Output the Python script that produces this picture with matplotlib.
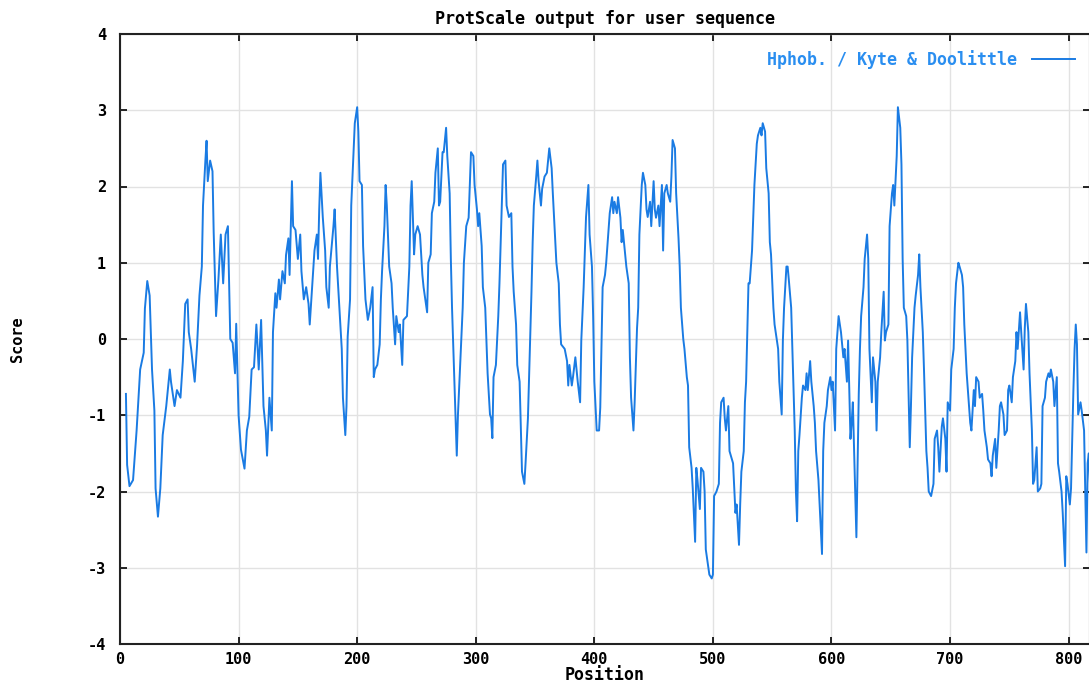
import matplotlib
matplotlib.use('Agg')
import matplotlib.pyplot as plt

# Kyte & Doolittle hydrophobicity
position = [
    5, 6, 8, 11, 14, 17, 20, 21, 23, 25, 27, 29, 30, 32, 34, 36, 39, 42, 43, 46,
    48, 51, 53, 55, 57, 58, 60, 63, 65, 67, 69, 70, 72, 73, 74, 76, 78, 79, 81, 83,
    85, 87, 89, 91, 93, 95, 97, 98, 100, 102, 105, 107, 109, 111, 113, 115, 117, 119, 121, 123,
    124, 126, 128, 129, 131, 132, 134, 135, 137, 139, 140, 142, 143, 145, 146, 148, 150, 152, 153, 155,
    157, 159, 160, 162, 164, 166, 167, 168, 169, 171, 173, 174, 176, 177, 180, 181, 183, 184, 185, 187,
    188, 190, 191, 192, 194, 195, 197, 198, 200, 201, 202, 204, 205, 207, 209, 211, 213, 214, 215, 217,
    219, 220, 221, 223, 224, 225, 227, 229, 230, 232, 233, 235, 236, 238, 239, 242, 244, 245, 246, 248,
    249, 251, 253, 255, 256, 258, 259, 260, 262, 263, 265, 266, 268, 269, 270, 272, 273, 275, 276, 278,
    279, 280, 282, 283, 284, 285, 287, 289, 290, 292, 294, 295, 296, 298, 299, 301, 302, 303, 305, 306,
    308, 310, 312, 313, 314, 315, 317, 319, 320, 322, 323, 325, 326, 328, 330, 331, 332, 334, 335, 337,
    338, 339, 341, 342, 344, 345, 347, 348, 349, 351, 352, 353, 355, 356, 358, 360, 361, 362, 364, 365,
    367, 368, 370, 371, 372, 375, 377, 378, 379, 381, 382, 384, 385, 386, 388, 389, 391, 392, 393, 395,
    396, 398, 399, 400, 402, 404, 405, 406, 407, 409, 410, 412, 413, 415, 416, 417, 419, 420, 422, 423,
    424, 426, 427, 429, 430, 431, 433, 434, 436, 437, 438, 440, 441, 443, 444, 445, 447, 448, 450, 451,
    452, 454, 455, 457, 458, 459, 461, 462, 464, 465, 466, 468, 469, 471, 472, 473, 475, 476, 478, 479,
    480, 482, 483, 485, 486, 487, 489, 490, 492, 493, 494, 496, 497, 499, 500, 501, 503, 505, 506, 507,
    509, 510, 511, 513, 514, 517, 519, 520, 522, 523, 524, 526, 527, 528, 530, 531, 533, 534, 535, 537,
    538, 540, 541, 542, 544, 545, 547, 548, 549, 551, 552, 554, 555, 556, 558, 559, 560, 562, 563, 564,
    566, 567, 569, 570, 571, 572, 573, 575, 576, 578, 579, 580, 582, 583, 585, 586, 587, 589, 590, 592,
    593, 594, 596, 597, 599, 600, 601, 603, 604, 606, 608, 610, 611, 613, 614, 616, 617, 618, 620, 621,
    623, 624, 625, 627, 628, 630, 631, 632, 634, 635, 637, 638, 639, 641, 642, 644, 645, 646, 648, 649,
    651, 652, 653, 655, 656, 658, 659, 660, 661, 663, 664, 666, 667, 668, 670, 671, 673, 674, 675, 677,
    678, 680, 681, 682, 684, 686, 687, 689, 690, 691, 693, 694, 696, 697, 698, 700, 701, 703, 704, 705,
    707, 708, 710, 711, 712, 714, 715, 717, 718, 720, 721, 722, 724, 725, 727, 728, 729, 731, 732, 734,
    735, 736, 738, 739, 741, 742, 743, 745, 746, 748, 749, 750, 752, 753, 755, 756, 757, 759, 760, 762,
    763, 764, 766, 767, 769, 770, 771, 773, 774, 776, 777, 778, 780, 781, 783, 784, 785, 787, 788, 790,
    791, 792, 794, 795, 797, 798, 799, 801, 802, 804, 805, 806, 807, 808, 810, 811, 813, 814, 815, 816,
    817, 818,
]
score = [
    -0.72, -1.65, -1.93, -1.85, -1.2, -0.4, -0.18, 0.4, 0.76, 0.57, -0.4, -0.94, -1.96, -2.33, -1.96, -1.26, -0.88, -0.4, -0.56, -0.88,
    -0.67, -0.77, -0.29, 0.46, 0.52, 0.09, -0.13, -0.56, -0.08, 0.57, 0.95, 1.75, 2.34, 2.6, 2.07, 2.34, 2.2, 1.4, 0.3, 0.78,
    1.37, 0.73, 1.37, 1.48, 0.0, -0.05, -0.45, 0.2, -1.0, -1.45, -1.7, -1.2, -1.02, -0.4, -0.37, 0.19, -0.4, 0.25, -0.88, -1.2,
    -1.53, -0.77, -1.2, 0.09, 0.6, 0.41, 0.78, 0.52, 0.89, 0.73, 1.1, 1.32, 0.84, 2.07, 1.48, 1.43, 1.05, 1.37, 0.89, 0.52,
    0.68, 0.46, 0.19, 0.68, 1.16, 1.37, 1.05, 1.7, 2.18, 1.6, 1.16, 0.68, 0.41, 0.95, 1.48, 1.7, 0.95, 0.68, 0.41, -0.13,
    -0.77, -1.26, -0.88, 0.03, 0.52, 1.75, 2.45, 2.83, 3.04, 2.72, 2.07, 2.02, 1.22, 0.52, 0.25, 0.41, 0.68, -0.5, -0.4, -0.34,
    -0.07, 0.52, 0.89, 1.48, 2.02, 1.75, 0.95, 0.73, 0.41, -0.07, 0.3, 0.09, 0.19, -0.34, 0.25, 0.3, 0.95, 1.75, 2.07, 1.11,
    1.37, 1.48, 1.37, 0.84, 0.68, 0.46, 0.35, 1.0, 1.11, 1.65, 1.8, 2.18, 2.5, 1.75, 1.8, 2.45, 2.45, 2.77, 2.4, 1.91,
    1.05, 0.41, -0.56, -1.04, -1.53, -0.99, -0.29, 0.41, 1.0, 1.48, 1.59, 2.02, 2.45, 2.4, 2.02, 1.7, 1.48, 1.65, 1.22, 0.68,
    0.41, -0.45, -0.99, -1.04, -1.3, -0.5, -0.34, 0.3, 0.73, 1.75, 2.29, 2.34, 1.75, 1.6, 1.65, 0.95, 0.62, 0.19, -0.34, -0.56,
    -1.15, -1.74, -1.9, -1.63, -1.04, -0.5, 0.62, 1.27, 1.75, 2.13, 2.34, 2.07, 1.75, 1.97, 2.13, 2.18, 2.34, 2.5, 2.24, 1.91,
    1.32, 1.0, 0.73, 0.19, -0.07, -0.13, -0.29, -0.61, -0.34, -0.61, -0.5, -0.24, -0.4, -0.56, -0.83, -0.02, 0.68, 1.16, 1.6, 2.02,
    1.37, 0.95, 0.3, -0.56, -1.2, -1.2, -0.9, -0.13, 0.68, 0.84, 1.0, 1.43, 1.65, 1.86, 1.65, 1.8, 1.65, 1.86, 1.59, 1.27,
    1.43, 1.11, 0.95, 0.73, -0.24, -0.77, -1.2, -0.83, 0.14, 0.41, 1.37, 2.02, 2.18, 2.02, 1.7, 1.6, 1.8, 1.48, 2.07, 1.7,
    1.59, 1.75, 1.48, 2.02, 1.16, 1.91, 2.02, 1.91, 1.8, 2.13, 2.61, 2.5, 1.91, 1.32, 0.95, 0.41, 0.0, -0.13, -0.5, -0.61,
    -1.42, -1.69, -1.96, -2.66, -1.69, -1.85, -2.23, -1.69, -1.74, -2.0, -2.76, -2.98, -3.09, -3.14, -3.09, -2.06, -2.0, -1.9, -1.1, -0.83,
    -0.77, -1.04, -1.2, -0.88, -1.47, -1.63, -2.28, -2.17, -2.7, -2.17, -1.74, -1.47, -0.83, -0.56, 0.73, 0.73, 1.16, 1.59, 2.02, 2.56,
    2.67, 2.77, 2.67, 2.83, 2.72, 2.24, 1.91, 1.27, 1.11, 0.41, 0.19, -0.02, -0.13, -0.56, -0.99, -0.02, 0.41, 0.95, 0.95, 0.78,
    0.41, -0.13, -1.2, -2.0, -2.39, -1.47, -1.26, -0.77, -0.61, -0.67, -0.45, -0.67, -0.29, -0.56, -0.88, -1.1, -1.47, -1.85, -2.17, -2.82,
    -1.47, -1.1, -0.88, -0.67, -0.5, -0.67, -0.56, -1.2, -0.13, 0.3, 0.09, -0.24, -0.13, -0.56, -0.02, -1.31, -1.1, -0.83, -2.0, -2.6,
    -0.72, -0.13, 0.3, 0.68, 1.05, 1.37, 1.05, -0.13, -0.83, -0.24, -0.56, -1.2, -0.56, -0.24, 0.09, 0.62, -0.02, 0.09, 0.19, 1.48,
    1.91, 2.02, 1.75, 2.4, 3.04, 2.77, 2.29, 1.05, 0.41, 0.3, -0.02, -1.42, -0.88, -0.24, 0.41, 0.57, 0.84, 1.11, 0.68, 0.09,
    -0.4, -1.47, -1.69, -2.0, -2.06, -1.9, -1.31, -1.2, -1.42, -1.74, -1.15, -1.04, -1.31, -1.74, -0.83, -0.94, -0.4, -0.13, 0.41, 0.73,
    1.0, 0.95, 0.84, 0.68, 0.19, -0.45, -0.67, -1.1, -1.2, -0.67, -0.88, -0.5, -0.56, -0.77, -0.72, -0.94, -1.2, -1.42, -1.58, -1.63,
    -1.8, -1.53, -1.31, -1.69, -1.2, -0.88, -0.83, -0.99, -1.26, -1.2, -0.67, -0.61, -0.83, -0.5, -0.29, 0.09, -0.13, 0.35, 0.09, -0.4,
    0.14, 0.46, 0.09, -0.45, -1.2, -1.9, -1.85, -1.42, -2.0, -1.96, -1.9, -0.88, -0.77, -0.56, -0.45, -0.5, -0.4, -0.56, -0.88, -0.5,
    -1.63, -1.74, -2.0, -2.28, -2.98, -1.8, -1.9, -2.17, -1.96, -0.67, -0.13, 0.19, -0.07, -0.99, -0.83, -0.94, -1.2, -2.0, -2.8, -1.63,
    -1.5, -1.9,
]

x_ticks = list(range(0, 801, 100))
y_ticks = list(range(-4, 5))

line_color = '#1a7be3'
text_color = '#2a8ef0'

plt.rcParams['font.family'] = 'DejaVu Sans Mono'
plt.rcParams['font.weight'] = 'bold'
plt.rcParams['axes.titleweight'] = 'bold'
plt.rcParams['axes.labelweight'] = 'bold'
plt.rcParams['axes.unicode_minus'] = False

fig = plt.figure(figsize=(10.89, 6.83), dpi=100)
ax = fig.add_axes([120 / 1089, 39 / 683, 970 / 1089, 610 / 683])
ax.plot(position, score, color=line_color, lw=1.4, label='Hphob. / Kyte & Doolittle')

ax.set_xlim(0, 818)
ax.set_ylim(-4, 4)
ax.set_xticks(x_ticks)
ax.set_yticks(y_ticks)
ax.tick_params(direction='in', top=True, right=True, length=5, width=1.2,
               labelsize=11)
ax.tick_params(axis='y', pad=10)
ax.tick_params(axis='x', pad=6)
ax.grid(True, color='#e2e2e2', lw=1)
ax.set_axisbelow(True)
for sp in ax.spines.values():
    sp.set_linewidth(1.5)
    sp.set_color('#222222')

ax.set_title('ProtScale output for user sequence', fontsize=12, pad=7)
ax.set_xlabel('Position', fontsize=12)
ax.set_ylabel('Score', fontsize=11)
ax.xaxis.set_label_coords(0.5, -0.036)
ax.yaxis.set_label_coords(-0.098, 0.5)

leg = ax.legend(loc='upper right', bbox_to_anchor=(0.9845, 0.974), frameon=False,
                markerfirst=False, handlelength=2.6, handletextpad=0.85,
                borderpad=0, borderaxespad=0, fontsize=12, labelcolor=text_color)

plt.savefig('out.png', dpi=100)
plt.close()
